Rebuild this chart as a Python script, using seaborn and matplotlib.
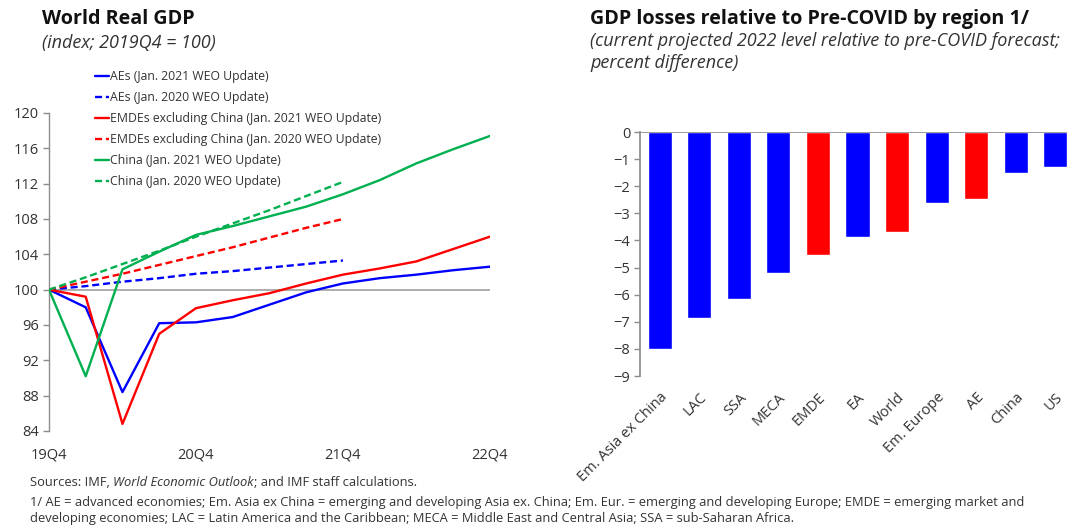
import numpy as np
import pandas as pd
import matplotlib
matplotlib.use("Agg")
import matplotlib.pyplot as plt
import seaborn as sns

# ---- data: World Real GDP (index, 2019Q4 = 100)
quarters = ["19Q4", "20Q1", "20Q2", "20Q3", "20Q4", "21Q1", "21Q2", "21Q3",
            "21Q4", "22Q1", "22Q2", "22Q3", "22Q4"]
aes_2021 = [100, 98.0, 88.4, 96.2, 96.3, 96.9, 98.3, 99.7, 100.7, 101.3, 101.7, 102.2, 102.6]
aes_2020 = [100, 100.4, 100.9, 101.3, 101.8, 102.1, 102.5, 102.9, 103.3]
emde_2021 = [100, 99.2, 84.8, 95.0, 97.9, 98.8, 99.6, 100.7, 101.7, 102.4, 103.2, 104.6, 106.0]
emde_2020 = [100, 100.9, 101.8, 102.8, 103.8, 104.8, 105.9, 107.0, 108.0]
china_2021 = [100, 90.2, 102.3, 104.3, 106.2, 107.2, 108.3, 109.4, 110.8, 112.4, 114.3, 115.9, 117.4]
china_2020 = [100, 101.4, 102.9, 104.4, 106.0, 107.5, 109.0, 110.6, 112.2]

# ---- data: GDP losses relative to pre-COVID (percent difference)
regions = ["Em. Asia ex China", "LAC", "SSA", "MECA", "EMDE", "EA", "World",
           "Em. Europe", "AE", "China", "US"]
losses = [-8.0, -6.85, -6.15, -5.2, -4.55, -3.87, -3.7, -2.62, -2.47, -1.5, -1.3]
aggregate = ["EMDE", "World", "AE"]

sns.set_theme(style="white")
plt.rcParams["font.family"] = ["Open Sans", "DejaVu Sans"]
txt = "#333333"
spine = "#8c8c8c"

fig = plt.figure(figsize=(10.67, 5.29), dpi=100)

# ---------------- left panel
ax1 = fig.add_axes([0.0459, 0.1853, 0.4133, 0.6011])
series = [
    (aes_2021, "AEs (Jan. 2021 WEO Update)", "#0000ff", "-"),
    (aes_2020, "AEs (Jan. 2020 WEO Update)", "#0000ff", "--"),
    (emde_2021, "EMDEs excluding China (Jan. 2021 WEO Update)", "#ff0000", "-"),
    (emde_2020, "EMDEs excluding China (Jan. 2020 WEO Update)", "#ff0000", "--"),
    (china_2021, "China (Jan. 2021 WEO Update)", "#00b050", "-"),
    (china_2020, "China (Jan. 2020 WEO Update)", "#00b050", "--"),
]
ax1.axhline(100, color="#a0a0a0", lw=1.2, zorder=1)
for vals, lab, col, ls in series:
    df = pd.DataFrame({"q": np.arange(len(vals)), "v": vals})
    sns.lineplot(data=df, x="q", y="v", ax=ax1, color=col, lw=1.7,
                 linestyle=ls, label=lab, zorder=3)
    if ls == "--":
        ax1.lines[-1].set_dashes((3, 1.6))

ax1.set_xlim(0, 12)
ax1.set_ylim(84, 120)
ax1.set_yticks(np.arange(84, 121, 4))
ax1.set_xticks([0, 4, 8, 12])
ax1.set_xticklabels([quarters[i] for i in [0, 4, 8, 12]])
ax1.set_xlabel("")
ax1.set_ylabel("")
for s in ["top", "right", "bottom"]:
    ax1.spines[s].set_visible(False)
ax1.spines["left"].set_color(spine)
ax1.spines["left"].set_linewidth(1)
ax1.tick_params(axis="y", left=True, length=4, width=1, color=spine,
                labelsize=10.5, labelcolor=txt, pad=3)
ax1.tick_params(axis="x", bottom=False, labelsize=10.5, labelcolor=txt, pad=6)

leg = ax1.legend(loc="upper left", bbox_to_anchor=(0.0895, 0.868),
                 bbox_transform=fig.transFigure, frameon=False,
                 fontsize=8.8, handlelength=1.1, handletextpad=0.05,
                 labelspacing=0.66, borderaxespad=0, borderpad=0)
for t in leg.get_texts():
    t.set_color(txt)

fig.text(0.0395, 0.965, "World Real GDP", fontsize=14.2, fontweight="bold",
         color="#111111", va="center")
fig.text(0.0395, 0.918, "(index; 2019Q4 = 100)", fontsize=13,
         style="italic", color=txt, va="center")

# ---------------- right panel
ax2 = fig.add_axes([0.5998, 0.2892, 0.4077, 0.4612])
bar_cols = ["#ff0000" if r in aggregate else "#0000ff" for r in regions]
sns.barplot(x=regions, y=losses, hue=regions, palette=bar_cols, legend=False,
            width=0.61, saturation=1, ax=ax2)
ax2.set_xlim(-0.5, 10.5)
ax2.set_ylim(-9, 0)
ax2.set_yticks(np.arange(-9, 1, 1))
ax2.axhline(0, color=spine, lw=1.2, zorder=4)
for s in ["top", "right", "bottom"]:
    ax2.spines[s].set_visible(False)
ax2.spines["left"].set_color(spine)
ax2.tick_params(axis="y", left=True, length=4, width=1, color=spine,
                labelsize=10.5, labelcolor=txt, pad=3)
ax2.tick_params(axis="x", bottom=False, labelsize=10.5, labelcolor=txt, pad=4)
plt.setp(ax2.get_xticklabels(), rotation=45, ha="right", rotation_mode="anchor")

fig.text(0.553, 0.965, "GDP losses relative to Pre-COVID by region 1/",
         fontsize=14.2, fontweight="bold", color="#111111", va="center")
fig.text(0.553, 0.923, "(current projected 2022 level relative to pre-COVID forecast;",
         fontsize=13, style="italic", color=txt, va="center")
fig.text(0.553, 0.881, "percent difference)", fontsize=13, style="italic",
         color=txt, va="center")

# ---------------- footer
fsize = 9.3
fig.canvas.draw()
r = fig.canvas.get_renderer()
t1 = fig.text(0.028, 0.087, "Sources: IMF, ", fontsize=fsize, color=txt, va="center")
w1 = t1.get_window_extent(r).width / fig.bbox.width
t2 = fig.text(0.028 + w1, 0.087, "World Economic Outlook", fontsize=fsize,
              style="italic", color=txt, va="center")
w2 = t2.get_window_extent(r).width / fig.bbox.width
fig.text(0.028 + w1 + w2, 0.087, "; and IMF staff calculations.", fontsize=fsize,
         color=txt, va="center")
fig.text(0.028, 0.051,
         "1/ AE = advanced economies; Em. Asia ex China = emerging and developing Asia ex. China; "
         "Em. Eur. = emerging and developing Europe; EMDE = emerging market and",
         fontsize=fsize, color=txt, va="center")
fig.text(0.028, 0.019,
         "developing economies; LAC = Latin America and the Caribbean; "
         "MECA = Middle East and Central Asia; SSA = sub-Saharan Africa.",
         fontsize=fsize, color=txt, va="center")

fig.savefig("out.png", dpi=100)
